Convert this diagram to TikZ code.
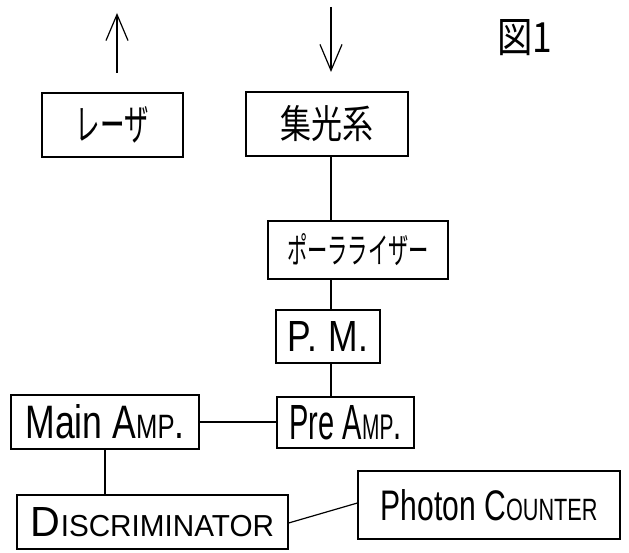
\documentclass[tikz,border=0pt]{standalone}
\usepackage{fontspec}
\usepackage{graphicx}
\setmainfont{Liberation Sans}
\newfontfamily\jpfont{Noto Sans CJK JP}
\usetikzlibrary{arrows.meta}
\newcommand\fitt[3]{\resizebox{#1}{#2}{#3}}
\newcommand\smc[1]{\scalebox{0.72}{#1}}
\tikzset{
  blk/.style={draw, line width=1.2pt, inner sep=0pt, anchor=center},
  wire/.style={line width=1.2pt},
  arr/.style={line width=1.2pt, -{Straight Barb[length=26pt,width=22pt]}},
}
\begin{document}
\begin{tikzpicture}[x=1pt,y=-1pt]
\useasboundingbox[fill=white] (0,0) rectangle (629,553);
% boxes
\node[blk, minimum width=141pt, minimum height=64pt] (laser) at (112.5,125)
  {\fitt{73pt}{34pt}{\jpfont レーザ}};
\node[blk, minimum width=162pt, minimum height=64pt] (jk) at (327,124)
  {\fitt{93pt}{33pt}{\jpfont 集光系}};
\node[blk, minimum width=180pt, minimum height=58pt] (pol) at (358,250)
  {\fitt{142pt}{30pt}{\jpfont ポーラライザー}};
\node[blk, minimum width=104pt, minimum height=53pt] (pm) at (328,336.5)
  {\fitt{80pt}{30pt}{P.\,\,M.}};
\node[blk, minimum width=137pt, minimum height=51pt] (pre) at (345.5,422.5)
  {\fitt{112pt}{34pt}{Pre A\smc{MP}.}};
\node[blk, minimum width=188pt, minimum height=54pt] (main) at (105,422)
  {\fitt{159pt}{34pt}{Main A\smc{MP}.}};
\node[blk, minimum width=271pt, minimum height=54pt] (disc) at (152.5,522)
  {\fitt{243pt}{29pt}{D\smc{ISCRIMINATOR}}};
\node[blk, minimum width=262pt, minimum height=68pt] (pc) at (489,505)
  {\fitt{217pt}{31pt}{Photon C\smc{OUNTER}}};
% title
\node[inner sep=0pt] (fig) at (524.5,37.5) {\fitt{55pt}{33pt}{\jpfont 図1}};
% arrows
\coordinate (upS) at (117,73);
\coordinate (upE) at (117,13);
\coordinate (dnS) at (331,7);
\coordinate (dnE) at (331,72);
\draw[arr] (upS) -- (upE);
\draw[arr] (dnS) -- (dnE);
% connectors
\draw[wire] (jk.south -| dnE) -- (pol.north -| dnE);
\draw[wire] (pol.south -| dnE) -- (pm.north -| dnE);
\draw[wire] (pm.south -| dnE) -- (pre.north -| dnE);
\draw[wire] (main.east) -- (main.east -| pre.west);
\draw[wire] (main.south) -- (main.south |- disc.north);
\draw[wire] ([yshift=-1pt]disc.east) -- ([yshift=2pt]pc.west);
\end{tikzpicture}
\end{document}
